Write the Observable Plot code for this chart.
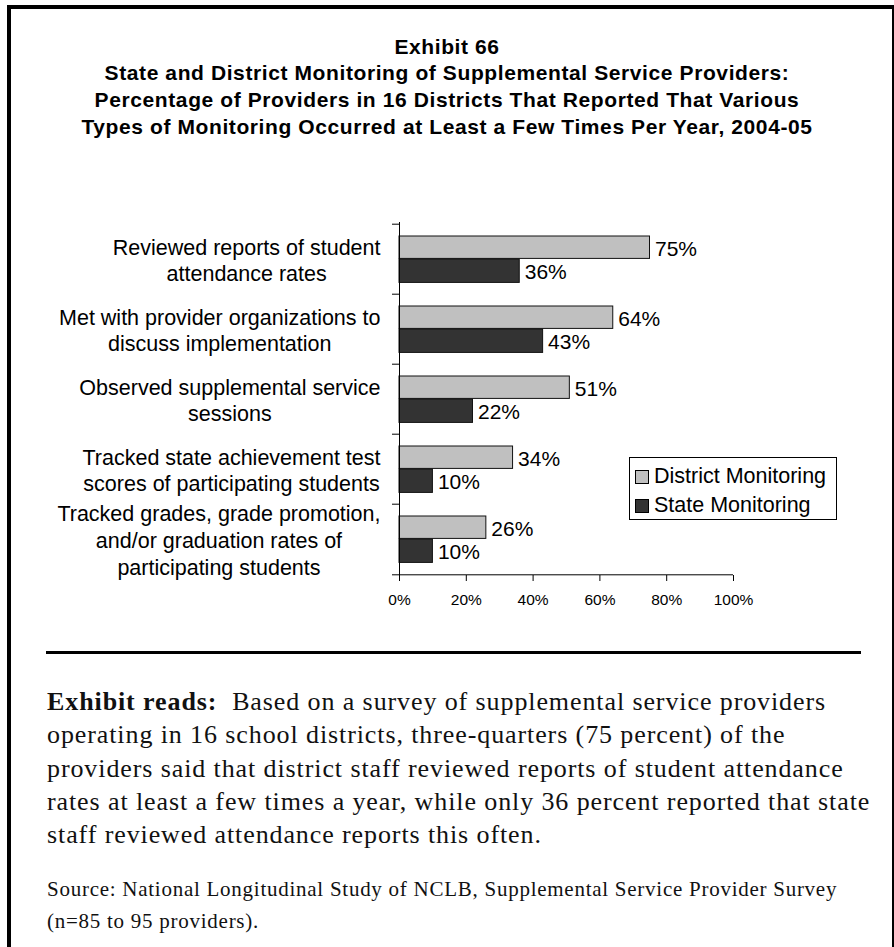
<!DOCTYPE html>
<html><head><meta charset="utf-8">
<script src="https://cdn.jsdelivr.net/npm/d3@7"></script>
<script src="https://cdn.jsdelivr.net/npm/@observablehq/plot@0.6"></script>
<style>
body{margin:0;background:#fff;width:894px;height:947px;overflow:hidden;position:relative;}
#frame{position:absolute;left:7px;top:5px;width:881px;height:980px;border-left:4px solid #000;border-top:4px solid #000;border-right:2px solid #000;box-sizing:content-box;}
#title{position:absolute;left:0;top:33.7px;width:894px;text-align:center;font:bold 21px "Liberation Sans",Arial,sans-serif;letter-spacing:0.6px;line-height:26.7px;color:#000;}
#chart{position:absolute;left:0;top:200px;}
#legend{position:absolute;left:629px;top:457px;width:208px;height:63px;border:1px solid #000;background:#fff;font:21.5px "Liberation Sans",Arial,sans-serif;padding-top:4px;box-sizing:border-box;color:#000;}
.li{height:29px;display:flex;align-items:center;}
.sw{width:12px;height:12px;border:1px solid #000;margin-left:5px;margin-right:5px;flex:none;}
#rule{position:absolute;left:46px;top:651px;width:815px;height:3px;background:#000;}
#reads{position:absolute;left:47px;top:685px;font:26px "Liberation Serif","Times New Roman",serif;letter-spacing:0.9px;line-height:33.3px;white-space:pre;color:#111;}
#source{position:absolute;left:47px;top:874px;font:21px "Liberation Serif","Times New Roman",serif;letter-spacing:0.74px;line-height:31.7px;white-space:pre;color:#111;}
#reads div, #source div{height:auto;}
</style></head>
<body>
<div id="frame"></div>
<div id="title">Exhibit 66<br>State and District Monitoring of Supplemental Service Providers:<br>Percentage of Providers in 16 Districts That Reported That Various<br>Types of Monitoring Occurred at Least a Few Times Per Year, 2004-05</div>
<div id="chart"></div>
<div id="legend"></div>
<div id="rule"></div>
<div id="reads"><div><b>Exhibit reads:</b><span>  Based on a survey of supplemental service providers</span></div><div>operating in 16 school districts, three-quarters (75 percent) of the</div><div>providers said that district staff reviewed reports of student attendance</div><div>rates at least a few times a year, while only 36 percent reported that state</div><div>staff reviewed attendance reports this often.</div></div>
<div id="source"><div>Source: National Longitudinal Study of NCLB, Supplemental Service Provider Survey</div><div>(n=85 to 95 providers).</div></div>
<script>
const categories = [
  "Reviewed reports of student\nattendance rates",
  "Met with provider organizations to\ndiscuss implementation",
  "Observed supplemental service\nsessions",
  "Tracked state achievement test\nscores of participating students",
  "Tracked grades, grade promotion,\nand/or graduation rates of\nparticipating students"
];
const districtValues = [75, 64, 51, 34, 26];
const stateValues = [36, 43, 22, 10, 10];
const seriesNames = ["District Monitoring", "State Monitoring"];
const seriesColors = ["#c0c0c0", "#333333"];
const xTicks = [0, 20, 40, 60, 80, 100];

const districtRows = categories.map((c, i) => ({category: c, series: seriesNames[0], value: districtValues[i]}));
const stateRows = categories.map((c, i) => ({category: c, series: seriesNames[1], value: stateValues[i]}));

const plotH = 420, mTop = 22, mBottom = 45;
const half = (plotH - mTop - mBottom) / categories.length / 2;

const chart = Plot.plot({
  width: 894, height: plotH,
  marginTop: mTop, marginBottom: mBottom, marginLeft: 399, marginRight: 161,
  style: {fontFamily: "'Liberation Sans', Arial, sans-serif", fontSize: "15.5px", background: "transparent", color: "#000"},
  x: {domain: [0, 100], label: null},
  y: {domain: categories, padding: 0, label: null},
  color: {domain: seriesNames, range: seriesColors},
  marks: [
    Plot.barX(districtRows, {y: "category", x: "value", fill: "series", stroke: "#111", strokeWidth: 1, insetTop: 12, insetBottom: 35.6}),
    Plot.barX(stateRows, {y: "category", x: "value", fill: "series", stroke: "#111", strokeWidth: 1, insetTop: 35, insetBottom: 11.6}),
    Plot.text(districtRows, {y: "category", x: "value", text: d => d.value + "%", dx: 5, dy: -10.6, textAnchor: "start", fontSize: 21, fill: "#000"}),
    Plot.text(stateRows, {y: "category", x: "value", text: d => d.value + "%", dx: 5, dy: 12.7, textAnchor: "start", fontSize: 21, fill: "#000"}),
    Plot.ruleX([0], {stroke: "#000"}),
    Plot.ruleY(categories, {y: d => d, x1: 0, x2: 0, insetLeft: -7, dy: -half, stroke: "#000"}),
    Plot.ruleY([categories[categories.length - 1]], {y: d => d, x1: 0, x2: 100, insetLeft: -7, dy: half, stroke: "#000"}),
    Plot.axisX({anchor: "bottom", ticks: xTicks, tickFormat: d => d + "%", tickSize: 6, tickPadding: 12, fontSize: 15.5, stroke: "#000", label: null}),
    Plot.axisY({anchor: "left", tickSize: 0, tickPadding: 19, fontSize: 21.5, lineHeight: 1.24, label: null})
  ]
});
document.getElementById("chart").appendChild(chart);

// center the lines of each multi-line category label, keeping its right edge at the tick position
chart.querySelectorAll('g[aria-label="y-axis tick label"] text').forEach(t => {
  const w = t.getBBox().width;
  t.setAttribute("text-anchor", "middle");
  const spans = t.querySelectorAll("tspan");
  if (spans.length) spans.forEach(s => s.setAttribute("x", -w / 2));
  else t.setAttribute("x", -w / 2);
});

const legend = document.getElementById("legend");
seriesNames.forEach((n, i) => {
  const row = document.createElement("div");
  row.className = "li";
  const sw = document.createElement("span");
  sw.className = "sw";
  sw.style.background = seriesColors[i];
  const tx = document.createElement("span");
  tx.textContent = n;
  row.appendChild(sw); row.appendChild(tx);
  legend.appendChild(row);
});
</script>
</body></html>
